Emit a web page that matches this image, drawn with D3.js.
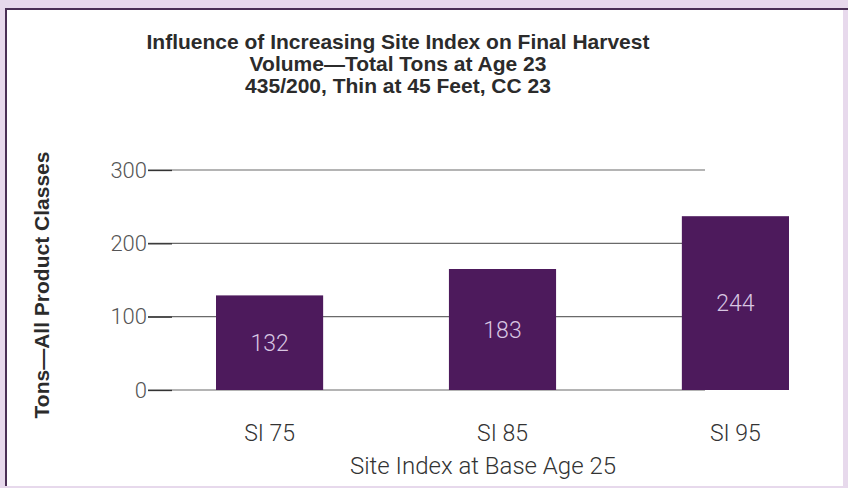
<!DOCTYPE html>
<html>
<head>
<meta charset="utf-8">
<script src="https://cdn.jsdelivr.net/npm/d3@7"></script>
<style>
  html, body { margin: 0; padding: 0; background: #e7d9ec; }
  svg { display: block; }
</style>
</head>
<body>
<svg id="chart"></svg>
<script>
const w = 848, h = 488;
const margin = { left: 148, right: 143, top: 170, bottom: 98 };

// values
const categories = ['SI 75', 'SI 85', 'SI 95'];
const barValues = [129, 165, 237];      // heights as drawn
const barLabels = ['132', '183', '244']; // numbers printed in the bars
const yTicks = [0, 100, 200, 300];
const titleLines = [
    'Influence of Increasing Site Index on Final Harvest',
    'Volume\u2014Total Tons at Age 23',
    '435/200, Thin at 45 Feet, CC 23'
];
const xTitle = 'Site Index at Base Age 25';
const yTitle = 'Tons\u2014All Product Classes';

const barColor = '#4d1a5c', labelColor = '#d8c6e2', tickColor = '#555';
const lightFont = 'Roboto, sans-serif';

const chart = d3.select('#chart')
    .attr('width', w)
    .attr('height', h);

// white panel with the dark purple frame on top and left
chart.append('rect')
    .attr('x', 6).attr('y', 9)
    .attr('width', 837).attr('height', 477)
    .style('fill', '#fff');
chart.append('line')
    .attr('x1', 5).attr('y1', 9).attr('x2', w).attr('y2', 9)
    .style('stroke', '#4a2f55').style('stroke-width', 2);
chart.append('line')
    .attr('x1', 6).attr('y1', 8).attr('x2', 6).attr('y2', 486)
    .style('stroke', '#4a2f55').style('stroke-width', 2);

const yScale = d3.scaleLinear()
    .domain([0, 300])
    .range([h - margin.bottom, margin.top]);

const xScale = d3.scaleBand()
    .domain(categories)
    .range([216, 789])
    .paddingInner(0.54)
    .paddingOuter(0);

// gridlines run behind the bars
chart.append('g')
    .selectAll('line')
    .data(yTicks)
    .enter()
    .append('line')
    .attr('x1', margin.left)
    .attr('x2', w - margin.right)
    .attr('y1', d => yScale(d))
    .attr('y2', d => yScale(d))
    .style('stroke', '#6a6a6a')
    .style('stroke-width', 1.2);

// left axis: short dark tick plus light number
chart.append('g')
    .attr('transform', `translate(${margin.left + 24}, 0)`)
    .call(d3.axisLeft(yScale).tickValues(yTicks).tickSize(24).tickPadding(1))
    .call(g => g.select('.domain').remove())
    .call(g => g.selectAll('line').style('stroke', '#333').style('stroke-width', 1.3))
    .call(g => g.selectAll('text')
        .style('fill', tickColor)
        .attr('font-family', lightFont)
        .attr('font-weight', 300)
        .attr('font-size', '22px'));

chart.selectAll('.bar')
    .data(barValues)
    .enter()
    .append('rect')
    .attr('class', 'bar')
    .attr('x', (d, i) => xScale(categories[i]))
    .attr('y', d => yScale(d))
    .attr('width', xScale.bandwidth())
    .attr('height', d => yScale(0) - yScale(d))
    .style('fill', barColor);

// labels sit in the vertical middle of each bar
chart.selectAll('.bar-label')
    .data(barValues)
    .enter()
    .append('text')
    .attr('class', 'bar-label')
    .attr('x', (d, i) => xScale(categories[i]) + xScale.bandwidth() / 2)
    .attr('y', d => (yScale(d) + yScale(0)) / 2)
    .attr('dy', '0.36em')
    .attr('text-anchor', 'middle')
    .attr('font-family', lightFont)
    .attr('font-weight', 300)
    .attr('font-size', '23px')
    .style('fill', labelColor)
    .text((d, i) => barLabels[i]);

// category labels under the bars
chart.append('g')
    .attr('transform', `translate(0, ${h - margin.bottom})`)
    .call(d3.axisBottom(xScale).tickSize(0).tickPadding(35))
    .call(g => g.select('.domain').remove())
    .call(g => g.selectAll('text')
        .style('fill', '#333')
        .attr('font-family', lightFont)
        .attr('font-weight', 300)
        .attr('font-size', '23px'));

chart.append('text')
    .attr('x', 483)
    .attr('y', 474)
    .attr('text-anchor', 'middle')
    .attr('font-family', lightFont)
    .attr('font-weight', 300)
    .attr('font-size', '24px')
    .style('fill', '#333')
    .text(xTitle);

chart.append('text')
    .attr('transform', 'translate(49, 285) rotate(-90)')
    .attr('text-anchor', 'middle')
    .attr('font-family', '"Liberation Sans", Arial, sans-serif')
    .attr('font-weight', 'bold')
    .attr('font-size', '21px')
    .style('fill', '#2b2b2b')
    .text(yTitle);

chart.append('g')
    .selectAll('text')
    .data(titleLines)
    .enter()
    .append('text')
    .attr('x', 398)
    .attr('y', (d, i) => 49 + i * 22)
    .attr('text-anchor', 'middle')
    .attr('font-family', '"Liberation Sans", Arial, sans-serif')
    .attr('font-weight', 'bold')
    .attr('font-size', '21px')
    .style('fill', '#2b2b2b')
    .text(d => d);
</script>
</body>
</html>
